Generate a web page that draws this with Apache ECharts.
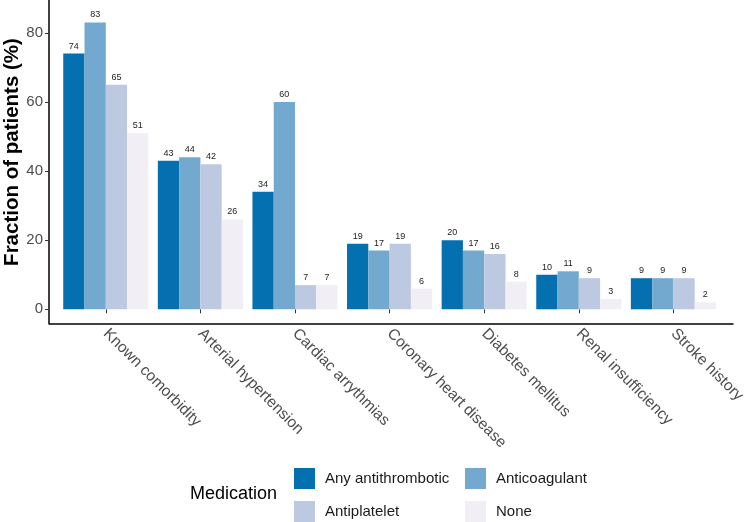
<!DOCTYPE html>
<html>
<head>
<meta charset="utf-8">
<script src="https://cdn.jsdelivr.net/npm/echarts@6/dist/echarts.min.js"></script>
<style>
html,body{margin:0;padding:0;background:#fff;}
#c{width:748px;height:522px;}
</style>
</head>
<body>
<div id="c"></div>
<script>
var categories = ['Known comorbidity','Arterial hypertension','Cardiac arrythmias','Coronary heart disease','Diabetes mellitus','Renal insufficiency','Stroke history'];
var seriesNames = ['Any antithrombotic','Anticoagulant','Antiplatelet','None'];
var anyAntithrombotic = [74, 43, 34, 19, 20, 10, 9];
var anticoagulant = [83, 44, 60, 17, 17, 11, 9];
var antiplatelet = [65, 42, 7, 19, 16, 9, 9];
var none = [51, 26, 7, 6, 8, 3, 2];
var yTicks = [0, 20, 40, 60, 80];
var colors = ['#0570b0', '#74a9cf', '#bdc9e1', '#f1eef6'];

var FONT = '"Liberation Sans", Arial, Helvetica, sans-serif';
var values = [anyAntithrombotic, anticoagulant, antiplatelet, none];
var yMin = -4.05, yMax = 89.5;

var chart = echarts.init(document.getElementById('c'));

var series = values.map(function (v, i) {
  return {
    name: seriesNames[i],
    type: 'bar',
    xAxisIndex: 0,
    yAxisIndex: 0,
    data: v,
    itemStyle: { color: colors[i] },
    barGap: '0%',
    barCategoryGap: '10%',
    label: {
      show: true,
      position: 'top',
      distance: 3,
      fontSize: 9,
      color: '#222',
      fontFamily: FONT
    }
  };
});

series.push({
  type: 'line', xAxisIndex: 1, yAxisIndex: 1, data: [], silent: true
});

function legendAt(name, left, top) {
  return {
    data: [name],
    left: left,
    top: top,
    orient: 'horizontal',
    itemWidth: 21,
    itemHeight: 21,
    icon: 'rect',
    selectedMode: false,
    padding: 0,
    textStyle: {
      fontSize: 15,
      color: '#1a1a1a',
      fontFamily: FONT,
      padding: [0, 0, 0, 5]
    }
  };
}

chart.setOption({
  animation: false,
  backgroundColor: '#fff',
  grid: [
    { left: 58.5, right: 24.5, top: 0, bottom: 198.7, containLabel: false },
    { left: 49, right: 15, top: 0, bottom: 198.7, containLabel: false }
  ],
  xAxis: [
    {
      type: 'category',
      gridIndex: 0,
      data: categories,
      boundaryGap: true,
      axisLine: { show: false },
      axisTick: { show: true, alignWithLabel: true, length: 4, lineStyle: { color: '#333', width: 1 } },
      axisLabel: {
        rotate: -45,
        margin: 8,
        fontSize: 15.5,
        color: '#4d4d4d',
        fontFamily: FONT,
        interval: 0
      },
      splitLine: { show: false }
    },
    {
      type: 'value',
      gridIndex: 1,
      min: 0, max: 1,
      axisLine: { show: true, onZero: false, lineStyle: { color: '#000', width: 1.5 } },
      axisTick: { show: false },
      axisLabel: { show: false },
      splitLine: { show: false }
    }
  ],
  yAxis: [
    {
      type: 'value',
      gridIndex: 0,
      min: yMin, max: yMax,
      axisLine: { show: false },
      axisTick: { show: false },
      axisLabel: { show: false },
      splitLine: { show: false }
    },
    {
      type: 'value',
      gridIndex: 1,
      min: yMin, max: yMax,
      axisLine: { show: true, onZero: false, lineStyle: { color: '#000', width: 1.5 } },
      axisTick: { show: true, length: 4, customValues: yTicks, lineStyle: { color: '#333', width: 1 } },
      axisLabel: { show: true, customValues: yTicks, margin: 6, fontSize: 15, color: '#4d4d4d', fontFamily: FONT },
      splitLine: { show: false }
    }
  ],
  legend: [
    legendAt(seriesNames[0], 294, 468),
    legendAt(seriesNames[1], 465, 468),
    legendAt(seriesNames[2], 294, 501),
    legendAt(seriesNames[3], 465, 501)
  ],
  graphic: [
    {
      type: 'text',
      left: 190,
      top: 485,
      style: { text: 'Medication', fontSize: 18, fill: '#000', fontFamily: FONT }
    },
    {
      type: 'text',
      x: 12,
      y: 152,
      rotation: Math.PI / 2,
      style: {
        text: 'Fraction of patients (%)',
        fontSize: 20.5,
        fontWeight: 'bold',
        fill: '#000',
        fontFamily: FONT,
        align: 'center',
        verticalAlign: 'middle'
      }
    }
  ],
  series: series
});
</script>
</body>
</html>
